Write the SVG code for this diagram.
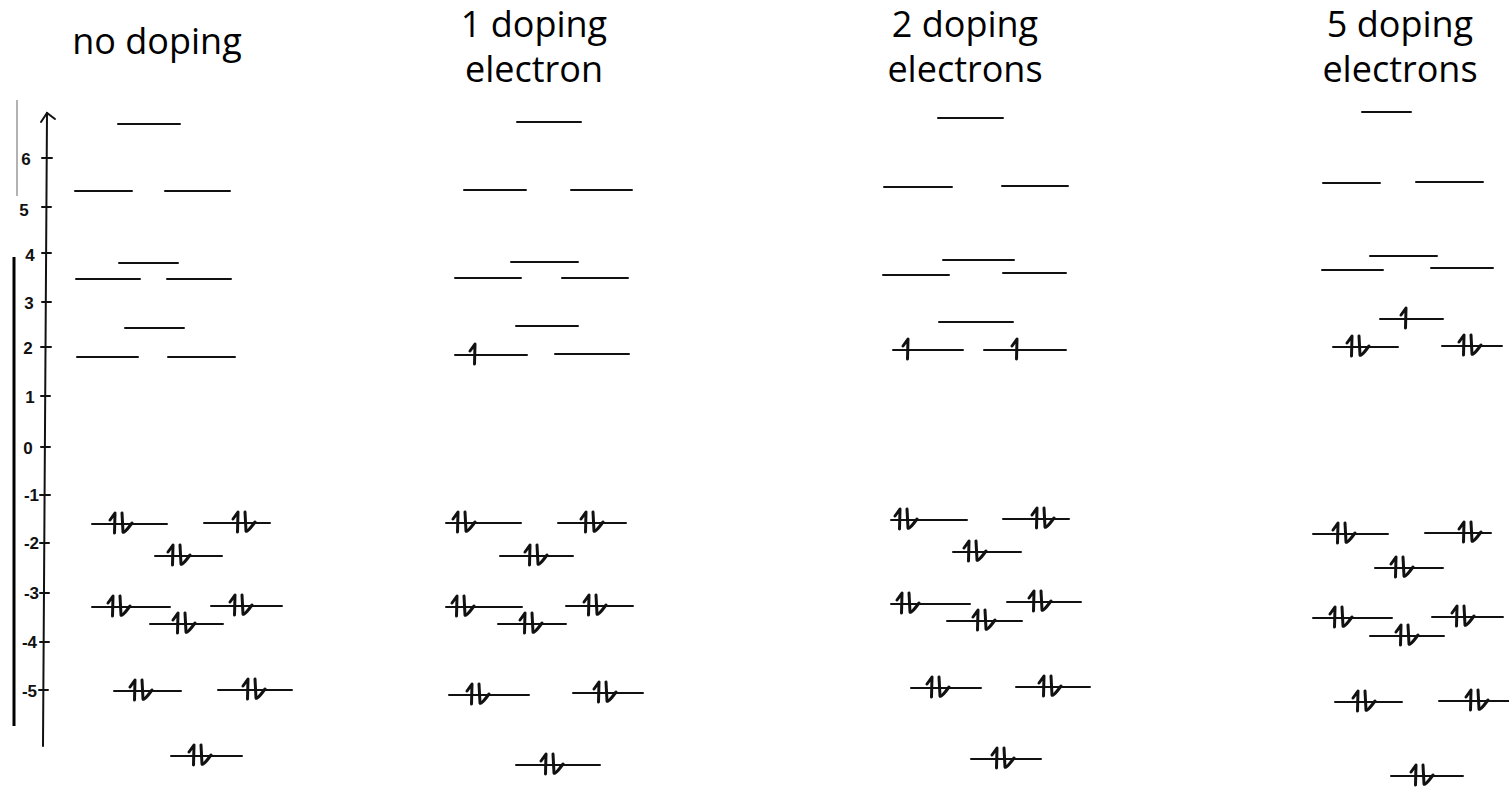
<svg xmlns="http://www.w3.org/2000/svg" width="1509" height="790" viewBox="0 0 1509 790">
<style>
.t{font-family:"Open Sans","Noto Sans",sans-serif;font-size:36px;fill:#000;text-anchor:middle}
.ax{font-family:"Liberation Sans",sans-serif;font-size:17px;font-weight:bold;fill:#111}
.lv{stroke:#111;stroke-width:2;fill:none;stroke-linecap:round}
.ar{stroke:#111;stroke-width:3;fill:none;stroke-linecap:round;stroke-linejoin:round}
.axl{stroke:#111;stroke-width:2;fill:none;stroke-linecap:round}
</style>
<defs>
<path id="up" class="ar" d="M -5 -4 L 0 -11 L -0.5 9"/>
<g id="pr"><path class="ar" d="M -11 -4 L -6 -11 L -6.5 9"/><path class="ar" d="M 1 -11 L 2 8 Q 3 10 11 -1"/></g>
</defs>
<rect width="1509" height="790" fill="#fff"/>
<g id="titles">
<text class="t" x="157" y="54">no doping</text>
<text class="t" x="534" y="37">1 doping</text>
<text class="t" x="534" y="82">electron</text>
<text class="t" x="965" y="37">2 doping</text>
<text class="t" x="965" y="82">electrons</text>
<text class="t" x="1400" y="37">5 doping</text>
<text class="t" x="1400" y="82">electrons</text>
</g>
<g id="axis">
<line x1="17" y1="100" x2="17" y2="196" stroke="#999" stroke-width="1.5"/>
<line x1="14" y1="257" x2="14" y2="726" stroke="#000" stroke-width="3"/>
<line class="axl" x1="43" y1="746" x2="47" y2="113"/>
<path class="axl" d="M 41 122 L 47 113 L 55 119"/>
<path class="axl" d="M 42 158 H 52 M 42 207 H 51 M 42 253 H 51 M 42 302 H 51 M 41 347 H 51 M 41 396 H 50 M 41 447 H 50 M 40 495 H 50 M 40 543 H 49 M 40 593 H 49 M 40 642 H 49 M 39 690 H 48"/>
<text class="ax" x="26" y="165" text-anchor="middle">6</text>
<text class="ax" x="24" y="216" text-anchor="middle">5</text>
<text class="ax" x="30" y="261" text-anchor="middle">4</text>
<text class="ax" x="29" y="309" text-anchor="middle">3</text>
<text class="ax" x="28" y="354" text-anchor="middle">2</text>
<text class="ax" x="30" y="403" text-anchor="middle">1</text>
<text class="ax" x="28" y="454" text-anchor="middle">0</text>
<text class="ax" x="39" y="501" text-anchor="end">-1</text>
<text class="ax" x="39" y="549" text-anchor="end">-2</text>
<text class="ax" x="39" y="599" text-anchor="end">-3</text>
<text class="ax" x="37" y="648" text-anchor="end">-4</text>
<text class="ax" x="37" y="697" text-anchor="end">-5</text>
</g>
<g id="col-no-doping">
<path class="lv" d="M118 124 H180 M75 191 H132 M165 191 H230 M119 263 H178 M76 279 H140 M167 279 H231 M125 328 H184 M77 357 H138 M168 357 H235 M92 524 H167 M204 523 H270 M155 556 H222 M92 607 H170 M211 606 H282 M150 624 H223 M114 691 H181 M218 690 H292 M171 756 H242"/>
<use href="#pr" x="121" y="524"/><use href="#pr" x="244" y="523"/><use href="#pr" x="179" y="556"/>
<use href="#pr" x="119" y="607"/><use href="#pr" x="241" y="606"/><use href="#pr" x="184" y="624"/>
<use href="#pr" x="141" y="691"/><use href="#pr" x="254" y="690"/><use href="#pr" x="200" y="756"/>
</g>
<g id="col-1-doping">
<path class="lv" d="M517 122 H581 M464 190 H526 M571 190 H632 M511 262 H578 M455 278 H521 M562 278 H628 M516 326 H578 M455 355 H527 M555 354 H629 M446 523 H521 M558 523 H626 M500 556 H573 M446 607 H522 M566 606 H633 M498 624 H566 M449 695 H529 M573 693 H643 M516 765 H600"/>
<use href="#up" x="475" y="355"/>
<use href="#pr" x="464" y="523"/><use href="#pr" x="592" y="523"/><use href="#pr" x="536" y="556"/>
<use href="#pr" x="463" y="607"/><use href="#pr" x="595" y="606"/><use href="#pr" x="531" y="624"/>
<use href="#pr" x="478" y="695"/><use href="#pr" x="605" y="693"/><use href="#pr" x="552" y="765"/>
</g>
<g id="col-2-doping">
<path class="lv" d="M938 118 H1003 M884 187 H952 M1002 186 H1068 M943 260 H1014 M883 275 H949 M1003 273 H1066 M939 322 H1013 M893 350 H963 M984 350 H1066 M891 520 H967 M1003 519 H1069 M953 552 H1021 M891 604 H970 M1007 602 H1081 M947 621 H1022 M911 688 H981 M1016 687 H1090 M971 759 H1041"/>
<use href="#up" x="908" y="350"/><use href="#up" x="1017" y="350"/>
<use href="#pr" x="906" y="520"/><use href="#pr" x="1043" y="519"/><use href="#pr" x="975" y="552"/>
<use href="#pr" x="908" y="604"/><use href="#pr" x="1040" y="602"/><use href="#pr" x="984" y="621"/>
<use href="#pr" x="938" y="688"/><use href="#pr" x="1050" y="687"/><use href="#pr" x="1003" y="759"/>
</g>
<g id="col-5-doping">
<path class="lv" d="M1362 112 H1411 M1323 183 H1380 M1416 182 H1483 M1370 256 H1437 M1322 270 H1383 M1431 268 H1493 M1380 319 H1443 M1333 347 H1398 M1442 346 H1502 M1313 534 H1388 M1425 533 H1491 M1375 568 H1443 M1313 618 H1392 M1432 617 H1503 M1370 636 H1444 M1335 702 H1402 M1439 701 H1509 M1391 776 H1463"/>
<use href="#up" x="1406" y="319"/>
<use href="#pr" x="1358" y="347"/><use href="#pr" x="1470" y="346"/>
<use href="#pr" x="1344" y="534"/><use href="#pr" x="1470" y="533"/><use href="#pr" x="1402" y="568"/>
<use href="#pr" x="1341" y="618"/><use href="#pr" x="1463" y="617"/><use href="#pr" x="1407" y="636"/>
<use href="#pr" x="1364" y="702"/><use href="#pr" x="1477" y="701"/><use href="#pr" x="1422" y="776"/>
</g>
</svg>
